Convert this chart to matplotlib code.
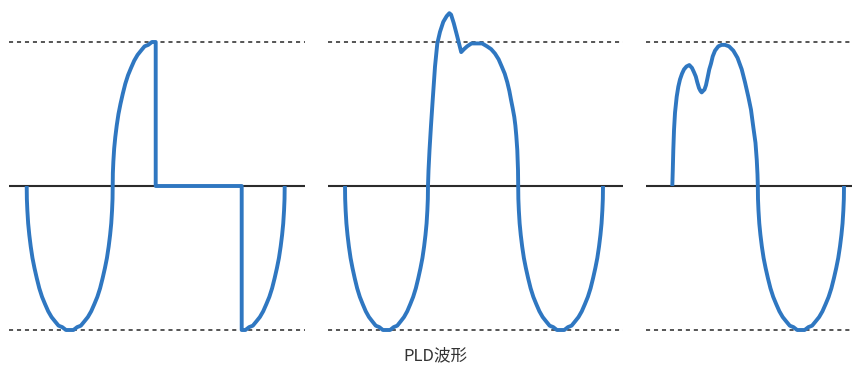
import matplotlib
matplotlib.use("Agg")
import matplotlib.pyplot as plt

plt.rcParams['font.family'] = ['Noto Sans CJK SC', 'DejaVu Sans']

# ---- data (electrical angle in degrees, voltage in per-unit) ----
# a full negative half-cycle lobe
lobe_val = [0, -0.09, -0.17, -0.26, -0.34, -0.42, -0.50, -0.57, -0.64, -0.71, -0.77, -0.82,
            -0.87, -0.91, -0.94, -0.97, -0.98, -1.0, -1.0, -1.0, -0.98, -0.97, -0.94, -0.91,
            -0.87, -0.82, -0.77, -0.71, -0.64, -0.57, -0.50, -0.42, -0.34, -0.26, -0.17,
            -0.09, 0]

# Panel 1: waveform with a cut-out (zero) section
p1_lobe_deg = [0, 0.34, 1.37, 3.06, 5.44, 8.42, 12.06, 16.27, 21.06, 26.35, 32.15, 38.38,
               45.0, 51.97, 59.22, 66.71, 74.38, 82.15, 90.0, 97.85, 105.62, 113.29, 120.78,
               128.03, 135.0, 141.62, 147.85, 153.65, 158.94, 163.73, 167.94, 171.58, 174.56,
               176.94, 178.63, 179.66, 180.0]
p1_rise_deg = [180.34, 181.37, 183.07, 185.43, 188.43, 192.06, 196.27, 201.06, 206.36,
               212.15, 218.38, 225.0, 231.97, 239.22, 246.71, 254.38, 262.15, 270.0]
p1_rise_val = [0.09, 0.17, 0.26, 0.34, 0.42, 0.50, 0.57, 0.64, 0.71, 0.77, 0.82, 0.87,
               0.91, 0.94, 0.97, 0.98, 1.0, 1.0]
p1_cut_deg = [270.0, 450.0]
p1_cut_val = [0, 0]
p1_tail_deg = [450.0, 457.85, 465.63, 473.29, 480.78, 488.03, 495.0, 501.62, 507.85, 513.64,
               518.94, 523.73, 527.94, 531.57, 534.57, 536.93, 538.63, 539.66, 540.0]
p1_tail_val = [-1.0, -1.0, -0.98, -0.97, -0.94, -0.91, -0.87, -0.82, -0.77, -0.71, -0.64,
               -0.57, -0.50, -0.42, -0.34, -0.26, -0.17, -0.09, 0]

# Panel 2: waveform with a transient spike on the positive half
p2_lobe1_deg = [0, 0.33, 1.32, 2.95, 5.25, 8.13, 11.64, 15.70, 20.32, 25.43, 31.02, 37.03,
                43.43, 50.15, 57.15, 64.37, 71.77, 79.28, 86.85, 94.42, 101.93, 109.33,
                116.55, 123.55, 130.28, 136.67, 142.68, 148.27, 153.38, 158.0, 162.06,
                165.57, 168.45, 170.75, 172.38, 173.37, 173.7]
p2_pos_deg = [174.8, 176.9, 180.0, 183.6, 188.4, 193.2, 198.8, 205.7, 212.9, 218.4, 222.0,
              227.7, 234.8, 243.2, 249.0, 255.7, 264.7, 276.3, 287.0, 297.2, 306.0, 313.9,
              321.5, 328.0, 334.3, 339.7, 344.0, 347.4, 351.0, 354.3, 356.6, 358.5, 360.6,
              362.1]
p2_pos_val = [0.11, 0.25, 0.42, 0.60, 0.83, 0.99, 1.07, 1.14, 1.18, 1.20, 1.19,
              1.13, 1.04, 0.93, 0.95, 0.97, 0.99, 0.99, 0.99, 0.97, 0.95, 0.92,
              0.88, 0.83, 0.78, 0.72, 0.66, 0.60, 0.54, 0.48, 0.42, 0.35, 0.25,
              0.11]
p2_lobe2_deg = [362.5, 362.84, 363.85, 365.52, 367.86, 370.81, 374.39, 378.55, 383.27,
                388.49, 394.2, 400.34, 406.88, 413.74, 420.9, 428.28, 435.84, 443.51,
                451.25, 458.99, 466.66, 474.22, 481.6, 488.76, 495.63, 502.16, 508.3,
                514.01, 519.23, 523.95, 528.11, 531.69, 534.64, 536.98, 538.65, 539.66, 540.0]

# Panel 3: waveform with a notch on the positive half
p3_pos_deg = [0, 1.0, 2.1, 3.6, 5.7, 9.2, 12.6, 16.1, 20.3, 24.5, 29.7, 35.6, 41.2, 45.4,
              49.2, 52.3, 55.9, 59.0, 61.5, 64.3, 67.4, 70.5, 73.7, 77.4, 81.0, 84.6, 89.4,
              96.3, 103.0, 110.3, 118.7, 127.7, 136.5, 145.3, 152.2, 159.1, 164.7, 169.5,
              174.1, 176.8, 178.3]
p3_pos_val = [0, 0.11, 0.25, 0.39, 0.51, 0.62, 0.69, 0.74, 0.78, 0.81, 0.83, 0.84, 0.82,
              0.79, 0.76, 0.72, 0.68, 0.66, 0.65, 0.66, 0.67, 0.70, 0.75, 0.81, 0.85, 0.90,
              0.94, 0.97, 0.98, 0.98, 0.97, 0.94, 0.89, 0.81, 0.72, 0.62, 0.53, 0.41, 0.30,
              0.18, 0.08]
p3_lobe_deg = [179.0, 179.34, 180.37, 182.07, 184.45, 187.44, 191.09, 195.31, 200.11,
               205.41, 211.22, 217.46, 224.1, 231.08, 238.35, 245.86, 253.54, 261.33, 269.2,
               277.07, 284.86, 292.54, 300.05, 307.32, 314.3, 320.94, 327.18, 332.99, 338.29,
               343.09, 347.31, 350.96, 353.95, 356.33, 358.03, 359.06, 359.4]

p1_deg = p1_lobe_deg + p1_rise_deg + p1_cut_deg + p1_tail_deg
p1_val = lobe_val + p1_rise_val + p1_cut_val + p1_tail_val
p2_deg = p2_lobe1_deg + p2_pos_deg + p2_lobe2_deg
p2_val = lobe_val + p2_pos_val + lobe_val
p3_deg = p3_pos_deg + p3_lobe_deg
p3_val = p3_pos_val + lobe_val

title = "PLD波形"

# ---- figure ----
W, H = 852, 367
fig = plt.figure(figsize=(W / 100, H / 100), dpi=100)

BLUE = "#2f77c1"
K = 360.0 / 172.0  # degrees per pixel

# (left px, right px, curve start px)
panels = [
    (9, 305, 26.7, p1_deg, p1_val),
    (328, 623, 345.0, p2_deg, p2_val),
    (646, 852, 672.3, p3_deg, p3_val),
]

zero_px = 186.0
scale_px = 144.0
ylo = -(H - zero_px) / scale_px
yhi = zero_px / scale_px

for x0, x1, xs, deg, val in panels:
    ax = fig.add_axes([x0 / W, 0, (x1 - x0) / W, 1])
    ax.set_xlim((x0 - xs) * K, (x1 - xs) * K)
    ax.set_ylim(ylo, yhi)
    ax.axis("off")
    for lvl in (1, -1):
        ax.axhline(lvl, color="#555555", lw=1.4, linestyle=(0, (2.1, 2.0)), zorder=1)
    ax.axhline(0, color="#2b2b2b", lw=1.5, zorder=2)
    ax.plot(deg, val, color=BLUE, lw=2.8, solid_joinstyle="round",
            solid_capstyle="butt", zorder=3, clip_on=False)

fig.text(435 / W, 1 - 356 / H, title, ha="center", va="center",
         fontsize=12, color="#333333")

fig.savefig("out.png", dpi=100)
